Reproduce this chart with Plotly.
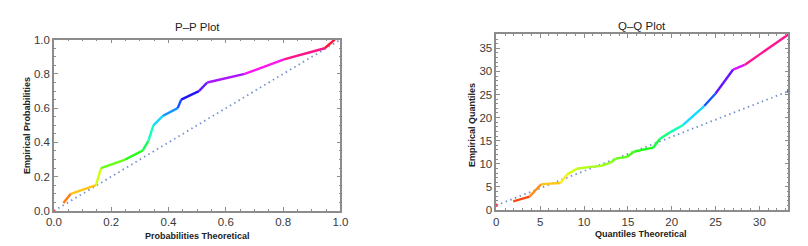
import colorsys
import plotly.graph_objects as go

# ---- data ----
pp_theoretical = [0.033, 0.059, 0.147, 0.164, 0.249, 0.310, 0.330, 0.347, 0.381,
                  0.432, 0.444, 0.506, 0.535, 0.666, 0.803, 0.945, 0.980]
pp_empirical = [0.046, 0.10, 0.15, 0.25, 0.30, 0.353, 0.41, 0.50, 0.556,
                0.60, 0.65, 0.70, 0.75, 0.80, 0.885, 0.95, 1.0]
pp_ref_x = [0.0, 1.0]
pp_ref_y = [0.0, 1.0]

qq_theoretical = [1.93, 3.79, 5.09, 5.65, 7.32, 8.07, 9.18, 10.48, 11.97, 13.09,
                  13.6, 14.9, 15.7, 16.6, 17.9, 18.66, 19.8, 21.3, 23.7, 25.0,
                  27.0, 28.3, 33.3]
qq_empirical = [1.86, 2.89, 5.5, 5.64, 5.84, 7.7, 8.93, 9.28, 9.55, 10.3,
                11.1, 11.5, 12.6, 13.0, 13.5, 15.4, 16.8, 18.4, 22.5, 25.2,
                30.4, 31.4, 38.0]
qq_ref_x = [0.0, 33.3]
qq_ref_y = [1.0, 25.7]

pp_xticks = [0.0, 0.2, 0.4, 0.6, 0.8, 1.0]
pp_yticks = [0.0, 0.2, 0.4, 0.6, 0.8, 1.0]
qq_xticks = [0, 5, 10, 15, 20, 25, 30]
qq_yticks = [0, 5, 10, 15, 20, 25, 30, 35]

FONT = "Liberation Sans, Arial, sans-serif"
FRAME = "#8c8c8c"
REF = "#7391d0"


def hue_color(t):
    t = min(max(t, 0.0), 1.0)
    r, g, b = colorsys.hsv_to_rgb(t if t < 1 else 0.999, 0.92, 1.0)
    return f"rgb({int(r*255)},{int(g*255)},{int(b*255)})"


fig = go.Figure()


def add_gradient(xs, ys, xa, ya, ymin, ymax):
    for i in range(len(xs) - 1):
        tm = ((ys[i] + ys[i + 1]) / 2 - ymin) / (ymax - ymin)
        fig.add_trace(go.Scatter(
            x=[xs[i], xs[i + 1]], y=[ys[i], ys[i + 1]], mode="lines",
            line=dict(color=hue_color(tm), width=2.4),
            xaxis=xa, yaxis=ya, showlegend=False, hoverinfo="skip"))


# reference lines
for rx, ry, xa, ya in [(pp_ref_x, pp_ref_y, "x", "y"), (qq_ref_x, qq_ref_y, "x2", "y2")]:
    fig.add_trace(go.Scatter(x=rx, y=ry, mode="lines",
                             line=dict(color=REF, width=1.8, dash="1.5px,3.5px"),
                             xaxis=xa, yaxis=ya, showlegend=False))

add_gradient(pp_theoretical, pp_empirical, "x", "y", 0.0, 1.0)
add_gradient(qq_theoretical, qq_empirical, "x2", "y2", 1.0, 38.0)

# end markers of reference lines
fig.add_trace(go.Scatter(x=[pp_ref_x[0]], y=[pp_ref_y[0]], mode="markers",
                         marker=dict(color="#ff3030", size=3),
                         xaxis="x", yaxis="y", showlegend=False, cliponaxis=False))
fig.add_trace(go.Scatter(x=[qq_ref_x[0], qq_ref_x[1]], y=[qq_ref_y[0], qq_ref_y[1]],
                         mode="markers",
                         marker=dict(color=["#ff3040", "#4060e0"], size=3.5),
                         xaxis="x2", yaxis="y2", showlegend=False, cliponaxis=False))

W, H = 808, 246


def axis(domain, rng, ticks, dtick_minor, anchor, fmt=None):
    d = dict(domain=domain, range=rng, tickvals=ticks, anchor=anchor,
             showgrid=False, zeroline=False, showline=True, linecolor=FRAME,
             linewidth=1.5, mirror="allticks", ticks="inside", ticklen=4,
             tickcolor=FRAME, tickwidth=1,
             tickfont=dict(family=FONT, size=11.5, color="#3a3a3a"),
             minor=dict(dtick=dtick_minor, ticks="inside", ticklen=2,
                        tickcolor=FRAME, tickwidth=1, showgrid=False),
             fixedrange=True)
    if fmt:
        d["tickformat"] = fmt
    return d


fig.update_layout(
    width=W, height=H,
    margin=dict(l=0, r=0, t=0, b=0),
    paper_bgcolor="white", plot_bgcolor="white",
    xaxis=axis([38.7 / W, 331 / W], [0, 1], pp_xticks, 0.05, "y", ".1f"),
    yaxis=axis([1 - 207 / H, 1 - 27 / H], [0, 1], pp_yticks, 0.05, "x", ".1f"),
    xaxis2=axis([490 / W, 788 / W], [0, 33.3], qq_xticks, 1, "y2"),
    yaxis2=axis([1 - 206 / H, 1 - 21 / H], [0, 38.1], qq_yticks, 1, "x2"),
)

ann = [
    dict(text="P\u2013P Plot", x=185 / W, y=1 - 14 / H, size=11.5, angle=0, w="normal"),
    dict(text="Q\u2013Q Plot", x=639 / W, y=1 - 13 / H, size=11.5, angle=0, w="normal"),
    dict(text="Probabilities Theoretical", x=185 / W, y=1 - 233 / H, size=9, angle=0, w="bold"),
    dict(text="Quantiles Theoretical", x=638 / W, y=1 - 231 / H, size=9, angle=0, w="bold"),
    dict(text="Empirical Probabilities", x=12 / W, y=1 - 117 / H, size=9, angle=-90, w="bold"),
    dict(text="Empirical Quantiles", x=466 / W, y=1 - 117 / H, size=9, angle=-90, w="bold"),
]
for a in ann:
    fig.add_annotation(text=a["text"], x=a["x"], y=a["y"], xref="paper", yref="paper",
                       showarrow=False, textangle=a["angle"], xanchor="center",
                       yanchor="middle",
                       font=dict(family=FONT, size=a["size"], color="#222222",
                                 weight=a["w"]))

fig.write_html("out.html")
